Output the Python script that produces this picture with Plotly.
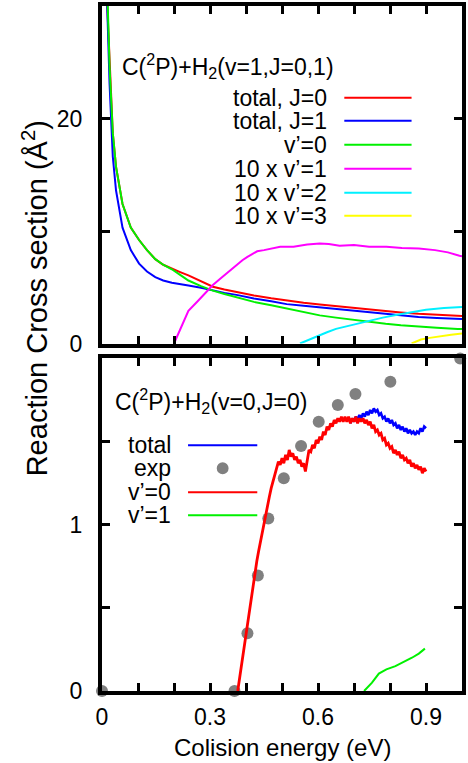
import plotly.graph_objects as go

# ---------------- data ----------------
# Upper panel: C(2P)+H2(v=1, J=0,1), cross sections in Å^2
e_j0 = [0.014, 0.021, 0.030, 0.039, 0.057, 0.080, 0.103, 0.125, 0.148, 0.170, 0.194, 0.217,
        0.240, 0.275, 0.308, 0.340, 0.377, 0.422, 0.470, 0.513, 0.560, 0.605, 0.650, 0.696,
        0.740, 0.788, 0.830, 0.879, 0.930, 0.988, 1.0]
sig_j0 = [30.5, 24.6, 18.7, 15.7, 12.4, 10.3, 9.2, 8.3, 7.5, 7.0, 6.7, 6.35,
          6.05, 5.5, 5.05, 4.8, 4.55, 4.27, 4.02, 3.82, 3.63, 3.47, 3.32, 3.17,
          3.02, 2.87, 2.76, 2.64, 2.55, 2.47, 2.45]

e_j1 = [0.014, 0.021, 0.030, 0.039, 0.057, 0.080, 0.103, 0.125, 0.148, 0.170, 0.194, 0.217,
        0.240, 0.275, 0.308, 0.340, 0.377, 0.422, 0.470, 0.513, 0.560, 0.605, 0.650, 0.696,
        0.740, 0.788, 0.830, 0.879, 0.930, 0.988, 1.0]
sig_j1 = [30.5, 23.1, 16.6, 13.6, 10.3, 8.3, 7.1, 6.4, 5.9, 5.6, 5.4, 5.25,
          5.15, 4.95, 4.7, 4.5, 4.3, 4.0, 3.75, 3.5, 3.35, 3.2, 3.05, 2.9,
          2.75, 2.6, 2.48, 2.35, 2.27, 2.2, 2.18]

e_v0 = [0.012, 0.016, 0.021, 0.030, 0.039, 0.057, 0.080, 0.103, 0.125, 0.148, 0.170, 0.194,
        0.217, 0.240, 0.275, 0.308, 0.340, 0.377, 0.422, 0.470, 0.513, 0.560, 0.605, 0.650,
        0.696, 0.740, 0.788, 0.830, 0.879, 0.930, 0.988, 1.0]
sig_v0 = [33.0, 30.0, 24.6, 18.7, 15.7, 12.4, 10.3, 9.2, 8.3, 7.5, 7.0, 6.6,
          6.1, 5.6, 5.1, 4.7, 4.4, 4.1, 3.7, 3.4, 3.1, 2.8, 2.5, 2.3,
          2.1, 1.93, 1.75, 1.62, 1.5, 1.4, 1.3, 1.28]

e_v1x10 = [0.200, 0.220, 0.240, 0.267, 0.290, 0.308, 0.330, 0.349, 0.365, 0.377, 0.390, 0.404,
           0.418, 0.431, 0.450, 0.468, 0.495, 0.532, 0.570, 0.605, 0.630, 0.660, 0.700, 0.742,
           0.790, 0.833, 0.880, 0.925, 0.961, 0.993, 1.0]
sig_v1x10 = [0.0, 1.5, 2.9, 3.8, 4.6, 5.2, 5.8, 6.3, 6.8, 7.1, 7.4, 7.7,
             8.0, 8.2, 8.3, 8.4, 8.6, 8.6, 8.8, 8.9, 8.85, 8.7, 8.75, 8.6,
             8.6, 8.5, 8.45, 8.3, 8.1, 7.8, 7.75]

e_v2x10 = [0.550, 0.575, 0.600, 0.625, 0.650, 0.675, 0.700, 0.742, 0.780, 0.820, 0.860, 0.900,
           0.950, 1.0]
sig_v2x10 = [0.0, 0.35, 0.65, 1.0, 1.3, 1.5, 1.7, 2.0, 2.3, 2.55, 2.8, 3.0,
             3.15, 3.25]

e_v3x10 = [0.860, 0.886, 0.910, 0.930, 0.950, 0.970, 1.0]
sig_v3x10 = [0.0, 0.36, 0.5, 0.6, 0.7, 0.78, 0.88]

# Lower panel: C(2P)+H2(v=0, J=0)
e_exp = [0.0, 0.368, 0.404, 0.433, 0.462, 0.505, 0.553, 0.602, 0.655, 0.704, 0.801, 0.995]
sig_exp = [0.0, 0.0, 0.347, 0.695, 1.037, 1.28, 1.474, 1.62, 1.72, 1.786, 1.86, 2.0]

e_b_v0 = [0.377, 0.385, 0.393, 0.400, 0.410, 0.420, 0.430, 0.435, 0.441, 0.447, 0.453, 0.459,
          0.465, 0.470, 0.475, 0.480, 0.485, 0.490, 0.495, 0.500, 0.505, 0.510, 0.515, 0.520,
          0.525, 0.530, 0.535, 0.540, 0.545, 0.550, 0.555, 0.560, 0.565, 0.570, 0.575, 0.580,
          0.585, 0.590, 0.595, 0.600, 0.605, 0.610, 0.615, 0.620, 0.625, 0.630, 0.635, 0.640,
          0.645, 0.650, 0.655, 0.660, 0.665, 0.670, 0.675, 0.680, 0.685, 0.690, 0.695, 0.700,
          0.705, 0.710, 0.715, 0.720, 0.725, 0.730, 0.735, 0.740, 0.745, 0.750, 0.755, 0.760,
          0.765, 0.770, 0.775, 0.780, 0.785, 0.790, 0.795, 0.800, 0.805, 0.810, 0.815, 0.820,
          0.825, 0.830, 0.835, 0.840, 0.845, 0.850, 0.855, 0.860, 0.865, 0.870, 0.875, 0.880,
          0.885, 0.890, 0.895, 0.900]
sig_b_v0 = [0.0, 0.12, 0.25, 0.35, 0.50, 0.64, 0.78, 0.84, 0.91, 0.97, 1.05, 1.11,
            1.17, 1.22, 1.26, 1.30, 1.33, 1.38, 1.36, 1.40, 1.37, 1.42, 1.39, 1.45,
            1.41, 1.43, 1.39, 1.41, 1.37, 1.39, 1.35, 1.37, 1.32, 1.40, 1.45, 1.44,
            1.48, 1.46, 1.51, 1.49, 1.53, 1.51, 1.56, 1.54, 1.59, 1.57, 1.61, 1.59,
            1.63, 1.61, 1.64, 1.62, 1.65, 1.62, 1.65, 1.62, 1.65, 1.61, 1.64, 1.62,
            1.65, 1.61, 1.64, 1.62, 1.64, 1.61, 1.63, 1.60, 1.62, 1.58, 1.60, 1.56,
            1.57, 1.54, 1.55, 1.51, 1.52, 1.48, 1.49, 1.46, 1.47, 1.43, 1.45, 1.42,
            1.44, 1.40, 1.42, 1.39, 1.40, 1.37, 1.39, 1.35, 1.37, 1.34, 1.36, 1.33,
            1.35, 1.31, 1.34, 1.32]

e_b_tot = [0.690, 0.695, 0.700, 0.705, 0.710, 0.715, 0.720, 0.725, 0.730, 0.735, 0.740, 0.745,
           0.750, 0.755, 0.760, 0.765, 0.770, 0.775, 0.780, 0.785, 0.790, 0.795, 0.800, 0.805,
           0.810, 0.815, 0.820, 0.825, 0.830, 0.835, 0.840, 0.845, 0.850, 0.855, 0.860, 0.865,
           0.870, 0.875, 0.880, 0.885, 0.890, 0.895, 0.900]
sig_b_tot = [1.61, 1.64, 1.62, 1.65, 1.63, 1.66, 1.64, 1.67, 1.65, 1.68, 1.66, 1.69,
             1.67, 1.70, 1.68, 1.69, 1.66, 1.67, 1.64, 1.65, 1.62, 1.64, 1.61, 1.63,
             1.60, 1.61, 1.58, 1.60, 1.57, 1.59, 1.56, 1.58, 1.55, 1.57, 1.55, 1.56,
             1.54, 1.56, 1.55, 1.58, 1.56, 1.59, 1.58]

e_b_v1 = [0.728, 0.750, 0.769, 0.790, 0.815, 0.840, 0.861, 0.880, 0.897]
sig_b_v1 = [0.0, 0.05, 0.105, 0.13, 0.15, 0.175, 0.20, 0.225, 0.255]

x_ticks = [0.0, 0.1, 0.2, 0.3, 0.4, 0.5, 0.6, 0.7, 0.8, 0.9, 1.0]
x_ticklabels = ["0", "", "", "0.3", "", "", "0.6", "", "", "0.9", ""]
y_top_ticks = [0, 10, 20, 30]
y_top_ticklabels = ["0", "", "20", ""]
y_bot_ticks = [0, 0.5, 1.0, 1.5, 2.0]
y_bot_ticklabels = ["0", "", "1", "", ""]

top_legend = ["total, J=0", "total, J=1", "v’=0", "10 x v’=1", "10 x v’=2", "10 x v’=3"]
bot_legend = ["total", "exp", "v’=0", "v’=1"]

# ---------------- styling ----------------
RED, BLUE, GREEN = "#ff0000", "#0000ff", "#00f000"
MAGENTA, CYAN, YELLOW = "#ff00ff", "#00f0ff", "#ffff00"
GRAY = "#808080"
FONT = "Liberation Sans, Arial, sans-serif"

W, H = 468, 763
ML, MR, MT, MB = 102, 2, 5, 72
PW, PH = W - ML - MR, H - MT - MB


def px(x):
    return (x - ML) / PW


def py(y):
    return (H - MB - y) / PH


fig = go.Figure()

top_series = [
    (e_j0, sig_j0, RED), (e_j1, sig_j1, BLUE), (e_v0, sig_v0, GREEN),
    (e_v1x10, sig_v1x10, MAGENTA), (e_v2x10, sig_v2x10, CYAN), (e_v3x10, sig_v3x10, YELLOW),
]
for xs, ys, c in top_series:
    fig.add_trace(go.Scatter(x=xs, y=ys, mode="lines", line=dict(color=c, width=2),
                             xaxis="x", yaxis="y", showlegend=False, hoverinfo="skip"))

fig.add_trace(go.Scatter(x=e_b_tot, y=sig_b_tot, mode="lines", line=dict(color=BLUE, width=2.6),
                         xaxis="x2", yaxis="y2", showlegend=False))
fig.add_trace(go.Scatter(x=e_exp, y=sig_exp, mode="markers",
                         marker=dict(color=GRAY, size=12, line=dict(width=0)),
                         cliponaxis=False, xaxis="x2", yaxis="y2", showlegend=False))
fig.add_trace(go.Scatter(x=e_b_v0, y=sig_b_v0, mode="lines", line=dict(color=RED, width=2.8),
                         xaxis="x2", yaxis="y2", showlegend=False))
fig.add_trace(go.Scatter(x=e_b_v1, y=sig_b_v1, mode="lines", line=dict(color=GREEN, width=2),
                         xaxis="x2", yaxis="y2", showlegend=False))

axis_common = dict(showline=True, linecolor="black", linewidth=4, mirror="allticks",
                   ticks="inside", ticklen=8, tickwidth=3, tickcolor="black",
                   showgrid=False, zeroline=False,
                   tickfont=dict(family=FONT, size=23, color="black"))

top_dom = [py(343), 1.0]
bot_dom = [0.0, py(358)]

fig.update_layout(
    width=W, height=H,
    margin=dict(l=ML, r=MR, t=MT, b=MB),
    paper_bgcolor="white", plot_bgcolor="white",
    xaxis=dict(domain=[0, 1], range=[0, 1.0], anchor="y", tickmode="array",
               tickvals=x_ticks, showticklabels=False, **axis_common),
    yaxis=dict(domain=top_dom, range=[0, 30], anchor="x", tickmode="array",
               tickvals=y_top_ticks, ticktext=y_top_ticklabels, ticklabelstandoff=11,
               **axis_common),
    xaxis2=dict(domain=[0, 1], range=[0, 1.0], anchor="y2", tickmode="array",
                tickvals=x_ticks, ticktext=x_ticklabels, ticklabelstandoff=2,
                **axis_common),
    yaxis2=dict(domain=bot_dom, range=[0, 2.0], anchor="x2", tickmode="array",
                tickvals=y_bot_ticks, ticktext=y_bot_ticklabels, ticklabelstandoff=11,
                **axis_common),
)

annotations = []
shapes = []
TXT = dict(family=FONT, size=23, color="black")

# upper legend
annotations.append(dict(text="C(<sup>2</sup>P)+H<sub>2</sub>(v=1,J=0,1)", xref="paper", yref="paper",
                        x=px(120), y=py(65), xanchor="left", yanchor="middle",
                        showarrow=False, font=TXT))
top_rows = [97, 120, 144, 168, 192, 215]
top_colors = [RED, BLUE, GREEN, MAGENTA, CYAN, YELLOW]
for label, row, c in zip(top_legend, top_rows, top_colors):
    annotations.append(dict(text=label, xref="paper", yref="paper", x=px(332), y=py(row),
                            xanchor="right", yanchor="middle", showarrow=False, font=TXT))
    shapes.append(dict(type="line", xref="paper", yref="paper", x0=px(347), x1=px(415),
                       y0=py(row), y1=py(row), line=dict(color=c, width=2)))

# lower legend
annotations.append(dict(text="C(<sup>2</sup>P)+H<sub>2</sub>(v=0,J=0)", xref="paper", yref="paper",
                        x=px(113), y=py(401), xanchor="left", yanchor="middle",
                        showarrow=False, font=TXT))
bot_rows = [445, 468, 492, 515]
for label, row in zip(bot_legend, bot_rows):
    annotations.append(dict(text=label, xref="paper", yref="paper", x=px(174), y=py(row),
                            xanchor="right", yanchor="middle", showarrow=False, font=TXT))
for row, c in ((445, BLUE), (492, RED), (515, GREEN)):
    shapes.append(dict(type="line", xref="paper", yref="paper", x0=px(189), x1=px(259),
                       y0=py(row), y1=py(row), line=dict(color=c, width=2)))
shapes.append(dict(type="circle", xref="paper", yref="paper", x0=px(218), x1=px(230),
                   y0=py(474), y1=py(462), fillcolor=GRAY, line=dict(width=0)))

# axis titles
annotations.append(dict(text="Reaction Cross section (Å<sup>2</sup>)", xref="paper", yref="paper",
                        x=px(34), y=py(298), textangle=-90, xanchor="center", yanchor="middle",
                        showarrow=False, font=dict(family=FONT, size=29, color="black")))
annotations.append(dict(text="Colision energy (eV)", xref="paper", yref="paper",
                        x=px(285), y=py(748), xanchor="center", yanchor="middle",
                        showarrow=False, font=dict(family=FONT, size=24, color="black")))

fig.update_layout(annotations=annotations, shapes=shapes)

fig.write_html("out.html")
